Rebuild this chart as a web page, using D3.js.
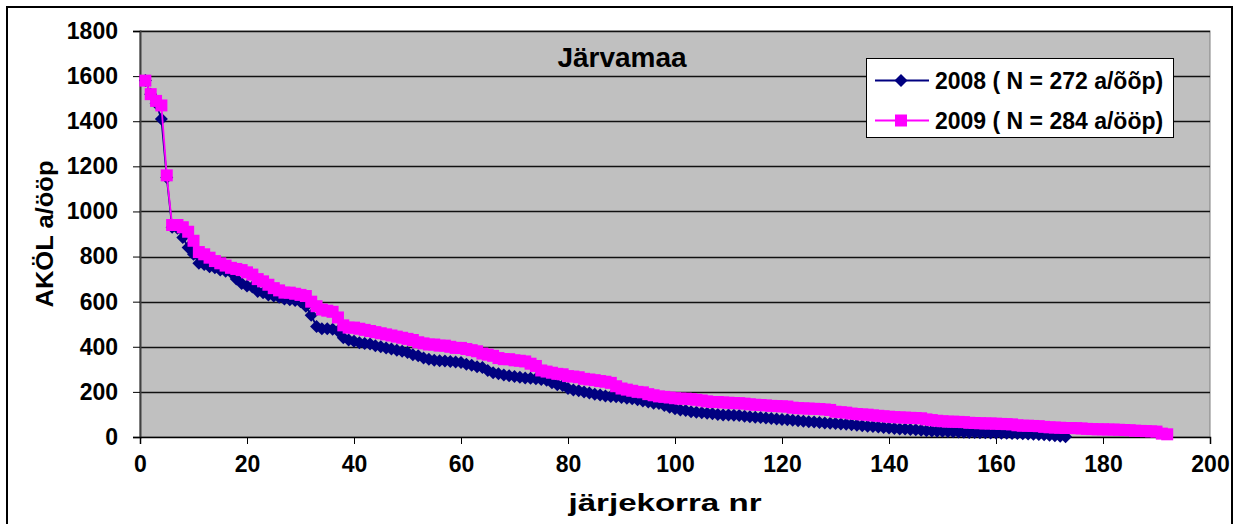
<!DOCTYPE html>
<html><head><meta charset="utf-8">
<script src="https://cdn.jsdelivr.net/npm/d3@7"></script>
<style>
body{margin:0;background:#fff}
svg{display:block}
text{font-family:Arial,"Liberation Sans",sans-serif;font-weight:bold;fill:#000}
</style>
</head><body><svg id="c" width="1242" height="524"></svg>
<script>
const chartTitle = "Järvamaa";
const yTitle = "AKÖL a/ööp";
const xTitle = "järjekorra nr";
const seriesNames = ["2008 ( N = 272 a/õõp)", "2009 ( N = 284 a/ööp)"];
const xTicks = [0,20,40,60,80,100,120,140,160,180,200];
const yTicks = [0,200,400,600,800,1000,1200,1400,1600,1800];

const values2008 = [
1580,1520,1480,1410,1150,930,925,885,840,810,
770,765,755,750,740,735,730,700,680,670,
665,645,640,630,625,620,612,608,605,600,
580,540,490,480,480,478,470,440,430,425,
418,415,412,405,400,395,390,385,380,375,
365,360,350,345,340,338,337,335,333,330,
322,318,312,308,295,285,280,275,272,268,
265,262,260,258,255,252,240,232,228,215,
208,205,200,195,190,186,182,180,178,175,
172,170,165,160,155,150,148,140,132,125,
120,118,112,110,108,105,103,100,98,97,
96,95,92,90,88,86,84,82,80,78,
76,74,72,70,68,66,64,62,61,60,
58,56,54,52,50,48,46,44,42,40,
38,36,35,33,32,30,28,27,26,25,
24,23,22,21,20,20,19,19,18,18,
17,17,16,15,14,13,12,11,10,8,
6,3,1];

const values2009 = [
1580,1520,1490,1470,1160,940,940,930,910,870,
820,810,795,780,770,760,750,745,740,730,
720,700,690,675,660,650,640,640,635,630,
625,600,580,565,560,555,530,495,485,485,
480,475,470,465,460,455,450,445,440,435,
430,420,415,410,410,405,405,400,395,395,
390,385,380,370,365,360,350,345,345,340,
338,335,325,315,295,290,285,280,278,270,
268,265,258,255,252,248,245,240,225,215,
210,205,200,198,190,185,180,178,175,172,
170,170,168,165,162,158,155,155,153,152,
150,150,148,145,143,142,140,138,137,136,
135,130,128,127,126,125,124,122,120,112,
110,108,104,102,100,99,96,94,92,90,
88,87,86,85,84,83,78,75,72,70,
68,68,67,66,63,62,61,60,60,59,
58,57,56,52,50,50,49,48,45,43,
42,41,40,40,39,38,36,35,34,34,
33,33,32,31,30,28,27,26,25,24,
15,12];

const colors = ["#000080", "#FF00FF"];

const svg = d3.select("#c");
const x = d3.scaleLinear().domain([0,200]).range([140,1210]);
const y = d3.scaleLinear().domain([0,1800]).range([437,31]);

// outer border
svg.append("rect").attr("x",7).attr("y",7).attr("width",1225).attr("height",540)
  .attr("fill","#fff").attr("stroke","#000").attr("stroke-width",2);

// plot area
svg.append("rect").attr("x",x(0)).attr("y",y(1800)).attr("width",x(200)-x(0)).attr("height",y(0)-y(1800))
  .attr("fill","#C0C0C0").attr("stroke","#808080").attr("stroke-width",1);

// gridlines
svg.append("g").selectAll("line").data(yTicks.filter(d=>d>0)).join("line")
  .attr("x1",x(0)).attr("x2",x(200))
  .attr("y1",d=>Math.round(y(d))+0.5).attr("y2",d=>Math.round(y(d))+0.5)
  .attr("stroke","#111").attr("stroke-width",1.3);

// axes
const yAxis = svg.append("g").attr("transform",`translate(${x(0)},0)`)
  .call(d3.axisLeft(y).tickValues(yTicks).tickSize(7).tickPadding(15).tickFormat(d3.format("d")));
const xAxis = svg.append("g").attr("transform",`translate(0,${y(0)})`)
  .call(d3.axisBottom(x).tickValues(xTicks).tickSize(7).tickPadding(12).tickFormat(d3.format("d")));
[yAxis,xAxis].forEach(g=>{
  g.selectAll("text").style("font-size","23px").style("font-family","Arial, 'Liberation Sans', sans-serif").style("font-weight","bold").attr("fill","#000");
  g.selectAll("line").attr("stroke","#000");
});
yAxis.select(".domain").attr("stroke","#404040").attr("stroke-width",2);
xAxis.select(".domain").attr("stroke","#000").attr("stroke-width",1.5);

// series
const line = d3.line().x((d,i)=>x(i+1)).y(d=>y(d));
const diamondPath = "M0,-6.5L6.5,0L0,6.5L-6.5,0Z";
const squarePath = "M-6,-6H6V6H-6Z";

function drawSeries(vals, color, shape){
  const g = svg.append("g");
  g.append("path").datum(vals).attr("d",line).attr("fill","none").attr("stroke",color).attr("stroke-width",1.8);
  g.selectAll("path.m").data(vals).join("path").attr("class","m")
    .attr("transform",(d,i)=>`translate(${x(i+1)},${y(d)})`)
    .attr("d",shape).attr("fill",color);
}
drawSeries(values2008, colors[0], diamondPath);
drawSeries(values2009, colors[1], squarePath);

// title
svg.append("text").attr("x",622).attr("y",67).attr("text-anchor","middle")
  .style("font-size","28px").text(chartTitle);

// axis titles
svg.append("text").attr("transform","translate(53,234) rotate(-90)").attr("text-anchor","middle")
  .attr("textLength",147).attr("lengthAdjust","spacingAndGlyphs")
  .style("font-size","24px").text(yTitle);
svg.append("text").attr("x",665).attr("y",511).attr("text-anchor","middle")
  .attr("textLength",193).attr("lengthAdjust","spacingAndGlyphs")
  .style("font-size","24px").text(xTitle);

// legend
const lg = svg.append("g");
lg.append("rect").attr("x",866.5).attr("y",58.5).attr("width",307).attr("height",79)
  .attr("fill","#fff").attr("stroke","#000").attr("stroke-width",1);
const legendRows = [80.5, 120.5];
const shapes = [diamondPath, squarePath];
seriesNames.forEach((name,k)=>{
  const yy = legendRows[k];
  lg.append("line").attr("x1",875).attr("x2",929).attr("y1",yy).attr("y2",yy)
    .attr("stroke",colors[k]).attr("stroke-width",1.8);
  lg.append("path").attr("transform",`translate(901,${yy})`).attr("d",shapes[k]).attr("fill",colors[k]);
  lg.append("text").attr("x",935).attr("y",yy+8).style("font-size","23px").text(name);
});
</script>
</body></html>
